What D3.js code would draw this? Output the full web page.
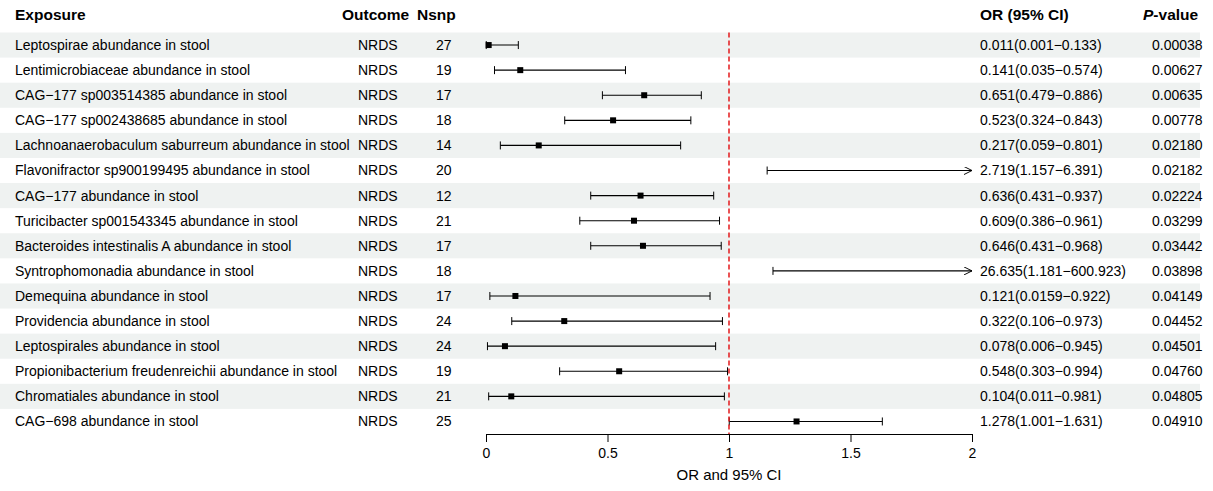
<!DOCTYPE html>
<html><head><meta charset="utf-8">
<script src="https://cdn.jsdelivr.net/npm/d3@7"></script>
<style>body{margin:0;background:#fff}text{font-family:Arial,"Liberation Sans",sans-serif}</style>
</head><body><svg id="c" width="1213" height="491"></svg>
<script>
var exposures = ['Leptospirae abundance in stool','Lentimicrobiaceae abundance in stool','CAG\u2212177 sp003514385 abundance in stool','CAG\u2212177 sp002438685 abundance in stool','Lachnoanaerobaculum saburreum abundance in stool','Flavonifractor sp900199495 abundance in stool','CAG\u2212177 abundance in stool','Turicibacter sp001543345 abundance in stool','Bacteroides intestinalis A abundance in stool','Syntrophomonadia abundance in stool','Demequina abundance in stool','Providencia abundance in stool','Leptospirales abundance in stool','Propionibacterium freudenreichii abundance in stool','Chromatiales abundance in stool','CAG\u2212698 abundance in stool'];
var nsnp = [27,19,17,18,14,20,12,21,17,18,17,24,24,19,21,25];
var or = [0.011,0.141,0.651,0.523,0.217,2.719,0.636,0.609,0.646,26.635,0.121,0.322,0.078,0.548,0.104,1.278];
var lo = [0.001,0.035,0.479,0.324,0.059,1.157,0.431,0.386,0.431,1.181,0.0159,0.106,0.006,0.303,0.011,1.001];
var hi = [0.133,0.574,0.886,0.843,0.801,6.391,0.937,0.961,0.968,600.923,0.922,0.973,0.945,0.994,0.981,1.631];
var orText = ['0.011(0.001\u22120.133)','0.141(0.035\u22120.574)','0.651(0.479\u22120.886)','0.523(0.324\u22120.843)','0.217(0.059\u22120.801)','2.719(1.157\u22126.391)','0.636(0.431\u22120.937)','0.609(0.386\u22120.961)','0.646(0.431\u22120.968)','26.635(1.181\u2212600.923)','0.121(0.0159\u22120.922)','0.322(0.106\u22120.973)','0.078(0.006\u22120.945)','0.548(0.303\u22120.994)','0.104(0.011\u22120.981)','1.278(1.001\u22121.631)'];
var pval = ['0.00038','0.00627','0.00635','0.00778','0.02180','0.02182','0.02224','0.03299','0.03442','0.03898','0.04149','0.04452','0.04501','0.04760','0.04805','0.04910'];
var ticks = [0,0.5,1,1.5,2];

var svg = d3.select('#c');
var x = d3.scaleLinear().domain([0,2]).range([486,972]);
var y = d3.scaleBand().domain(d3.range(16)).range([32.5,434]);
var fs = 14;

svg.append('defs').append('marker').attr('id','ar').attr('viewBox','0 0 10 10')
  .attr('refX',10).attr('refY',5).attr('markerWidth',8).attr('markerHeight',8)
  .attr('markerUnits','userSpaceOnUse').attr('orient','auto')
  .append('path').attr('d','M0,0L10,5L0,10').attr('fill','none').attr('stroke','#000').attr('stroke-width',1.2);

var rows = svg.selectAll('g.row').data(d3.range(16)).join('g').attr('class','row')
  .attr('transform', function(i){return 'translate(0,' + y(i) + ')';});
rows.filter(function(i){return i % 2 === 0;}).append('rect')
  .attr('x',0).attr('width',1200).attr('height',y.bandwidth()).attr('fill','#eff2f1');
var mid = y.bandwidth()/2;
function txt(xp, f, anchor){
  rows.append('text').attr('x',xp).attr('y',mid).attr('dy','0.35em').attr('font-size',fs)
    .attr('text-anchor',anchor||'start').text(f);
}
txt(15, function(i){return exposures[i];});
txt(358, function(){return 'NRDS';});
txt(436, function(i){return nsnp[i];});
txt(980, function(i){return orText[i];});
txt(1152, function(i){return pval[i];});

// red reference line
svg.append('line').attr('x1',x(1)).attr('x2',x(1)).attr('y1',y(0)).attr('y2',434)
  .attr('stroke','#e41a1c').attr('stroke-width',1.5).attr('stroke-dasharray','5,3');

rows.each(function(i){
  var g = d3.select(this), over = hi[i] > 2;
  var ln = g.append('line').attr('x1',x(lo[i])).attr('x2',x(Math.min(hi[i],2)))
    .attr('y1',mid).attr('y2',mid).attr('stroke','#000').attr('stroke-width',1.1);
  g.append('line').attr('x1',x(lo[i])).attr('x2',x(lo[i])).attr('y1',mid-4).attr('y2',mid+4).attr('stroke','#000');
  if (over) ln.attr('marker-end','url(#ar)');
  else g.append('line').attr('x1',x(hi[i])).attr('x2',x(hi[i])).attr('y1',mid-4).attr('y2',mid+4).attr('stroke','#000');
  if (or[i] <= 2) g.append('rect').attr('x',x(or[i])-3).attr('y',mid-3).attr('width',6).attr('height',6).attr('fill','#000');
});

var ax = svg.append('g').attr('transform','translate(0,434)')
  .call(d3.axisBottom(x).tickValues(ticks).tickFormat(d3.format('')).tickSize(8).tickSizeOuter(0));
ax.select('.domain').attr('stroke','#000');
ax.selectAll('text').attr('font-size',fs).attr('font-family','Arial,"Liberation Sans",sans-serif').attr('dy','0.9em');

svg.append('text').attr('x',x(1)).attr('y',480).attr('text-anchor','middle').attr('font-size',15).text('OR and 95% CI');

var hdr = svg.append('g').attr('font-size',15.5).attr('font-weight','bold');
hdr.append('text').attr('x',15).attr('y',20).text('Exposure');
hdr.append('text').attr('x',342).attr('y',20).text('Outcome');
hdr.append('text').attr('x',417).attr('y',20).text('Nsnp');
hdr.append('text').attr('x',980).attr('y',20).text('OR (95% CI)');
var pt = hdr.append('text').attr('x',1143).attr('y',20);
pt.append('tspan').attr('font-style','italic').text('P');
pt.append('tspan').text('-value');
</script></body></html>
